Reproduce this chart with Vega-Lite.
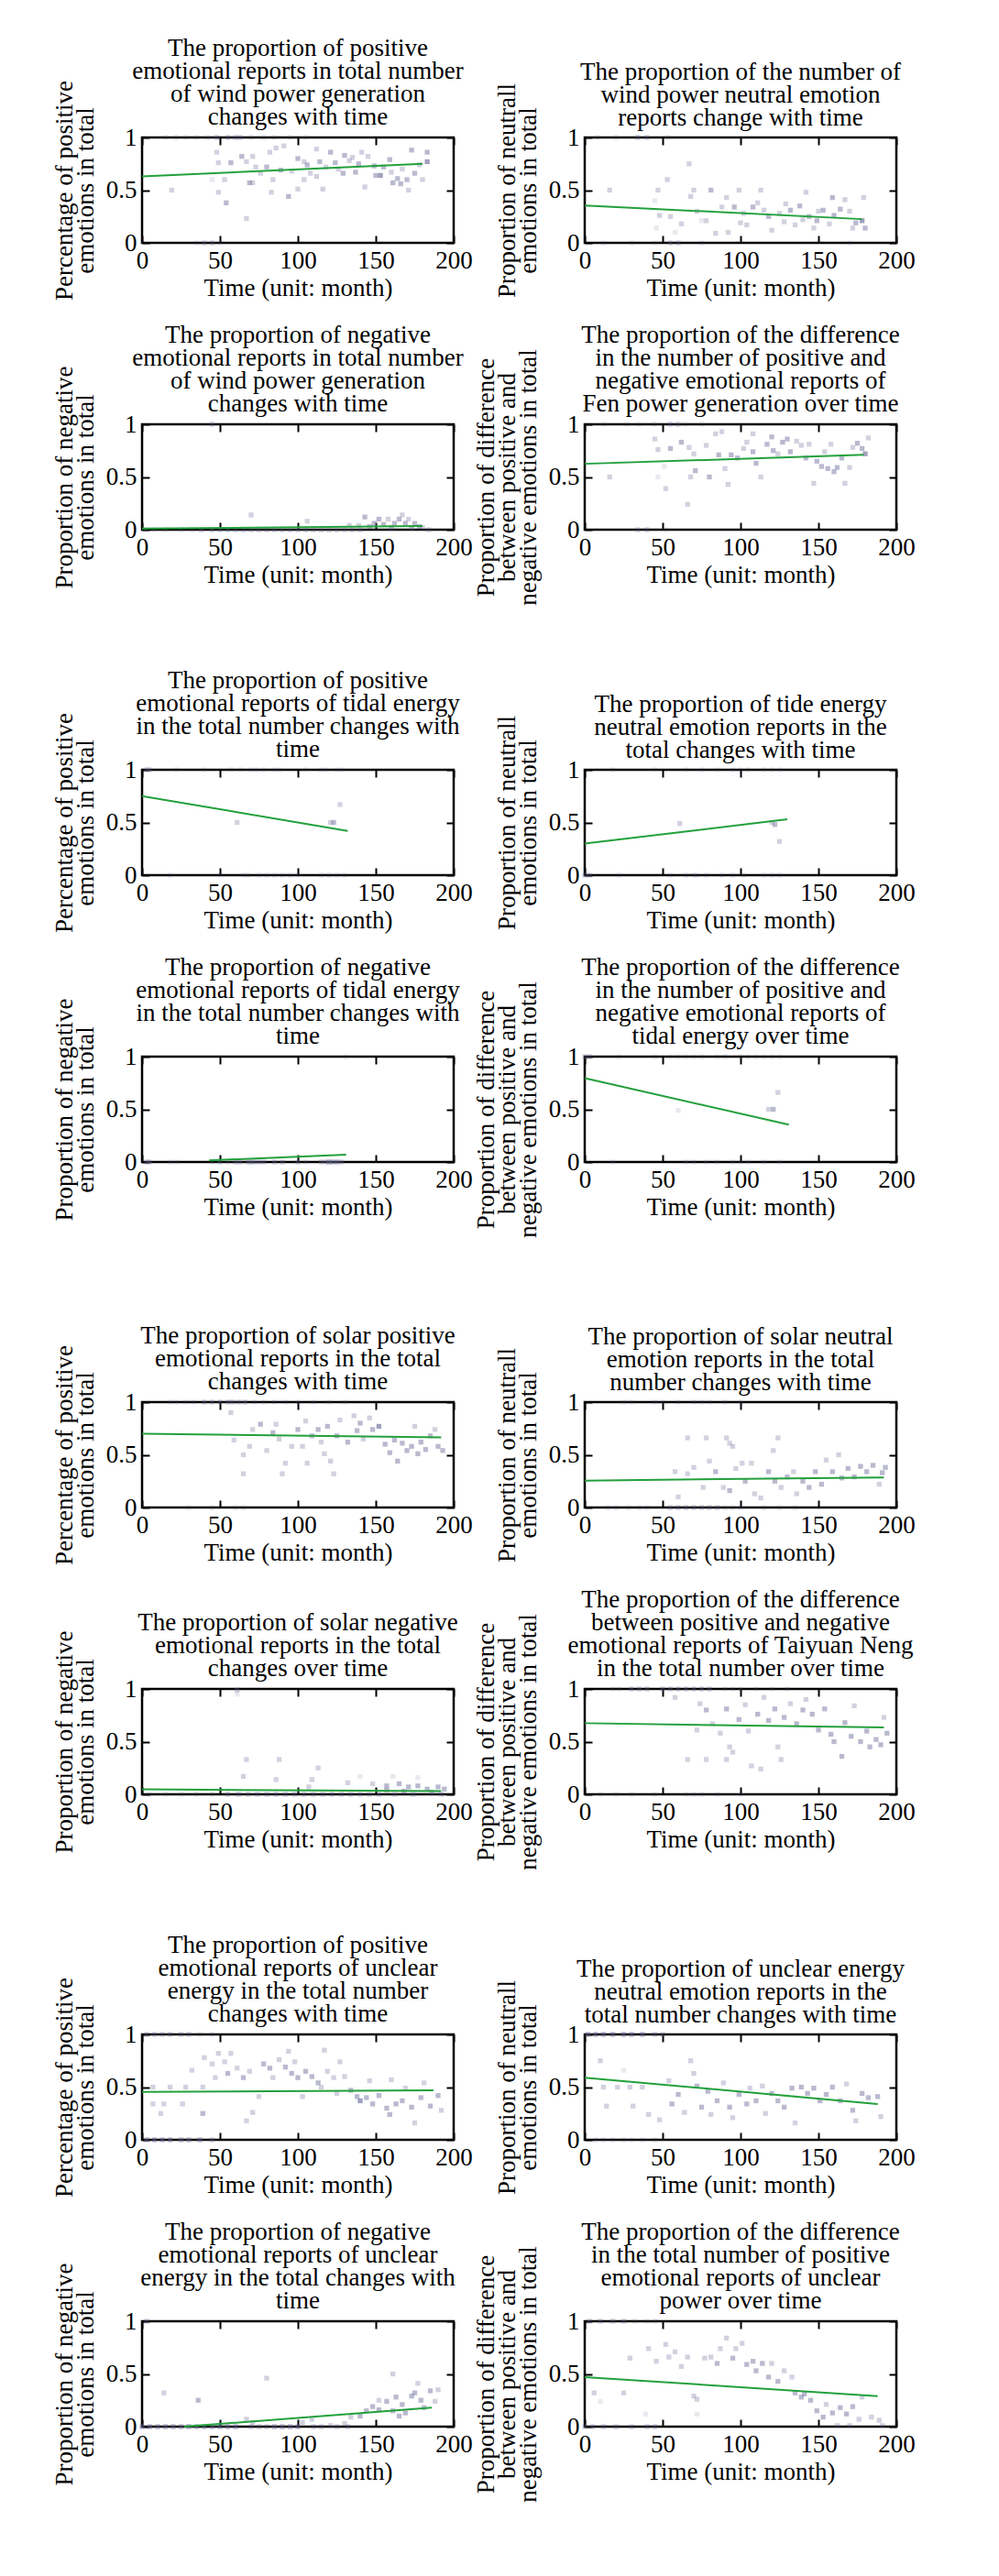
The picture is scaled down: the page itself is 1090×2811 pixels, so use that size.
{
"$schema": "https://vega.github.io/schema/vega-lite/v6.json",
"background": "white",
"padding": {"left": 55, "top": 37, "right": 5, "bottom": 5},
"config": {
 "font": "Liberation Serif",
 "view": {"stroke": "black", "strokeWidth": 2.5},
 "title": {"font": "Liberation Serif", "fontSize": 27, "fontWeight": "normal", "lineHeight": 25, "frame": "group", "anchor": "middle", "color": "black"},
 "axis": {"labelFont": "Liberation Serif", "labelFontSize": 27, "labelColor": "black", "titleFont": "Liberation Serif", "titleFontSize": 27, "titleFontWeight": "normal", "titleColor": "black", "titleLineHeight": 23, "grid": false, "domain": false, "tickColor": "black", "tickWidth": 2, "tickSize": -8, "labelPadding": 14, "labelFlush": false, "labelOverlap": false, "titlePadding": 4},
 "axisY": {"titlePadding": 8}
},
"datasets": {
"fit": [
{"p":1,"t":0,"v":0.63},{"p":1,"t":180,"v":0.75},
{"p":2,"t":0,"v":0.355},{"p":2,"t":178,"v":0.225},
{"p":3,"t":0,"v":0.01},{"p":3,"t":180,"v":0.035},
{"p":4,"t":0,"v":0.625},{"p":4,"t":179,"v":0.71},
{"p":5,"t":0,"v":0.75},{"p":5,"t":132,"v":0.42},
{"p":6,"t":0,"v":0.3},{"p":6,"t":130,"v":0.53},
{"p":7,"t":43,"v":0.015},{"p":7,"t":131,"v":0.07},
{"p":8,"t":0,"v":0.795},{"p":8,"t":131,"v":0.355},
{"p":9,"t":0,"v":0.7},{"p":9,"t":192,"v":0.665},
{"p":10,"t":0,"v":0.255},{"p":10,"t":192,"v":0.285},
{"p":11,"t":0,"v":0.047},{"p":11,"t":192,"v":0.03},
{"p":12,"t":0,"v":0.675},{"p":12,"t":192,"v":0.634},
{"p":13,"t":0,"v":0.455},{"p":13,"t":187,"v":0.47},
{"p":14,"t":0,"v":0.59},{"p":14,"t":188,"v":0.34},
{"p":15,"t":27,"v":0.0},{"p":15,"t":186,"v":0.18},
{"p":16,"t":0,"v":0.47},{"p":16,"t":188,"v":0.29}
],
"pts": [
{"p":1,"t":48,"v":0.86,"n":2},{"p":1,"t":49,"v":0.76,"n":2},{"p":1,"t":57,"v":0.76,"n":3},{"p":1,"t":64,"v":0.82,"n":3},{"p":1,"t":67,"v":0.77,"n":2},{"p":1,"t":71,"v":0.82,"n":2},{"p":1,"t":73,"v":0.72,"n":2},{"p":1,"t":69,"v":0.57,"n":3},{"p":1,"t":71,"v":0.57,"n":2},{"p":1,"t":45,"v":0.6,"n":1},{"p":1,"t":53,"v":0.6,"n":2},{"p":1,"t":49,"v":0.48,"n":2},{"p":1,"t":54,"v":0.38,"n":3},{"p":1,"t":67,"v":0.23,"n":2},{"p":1,"t":19,"v":0.5,"n":2},{"p":1,"t":82,"v":0.86,"n":2},{"p":1,"t":86,"v":0.9,"n":2},{"p":1,"t":91,"v":0.92,"n":2},{"p":1,"t":80,"v":0.72,"n":3},{"p":1,"t":89,"v":0.69,"n":3},{"p":1,"t":84,"v":0.6,"n":2},{"p":1,"t":83,"v":0.48,"n":2},{"p":1,"t":94,"v":0.44,"n":3},{"p":1,"t":100,"v":0.8,"n":3},{"p":1,"t":104,"v":0.77,"n":2},{"p":1,"t":106,"v":0.74,"n":3},{"p":1,"t":112,"v":0.89,"n":2},{"p":1,"t":114,"v":0.77,"n":3},{"p":1,"t":112,"v":0.63,"n":2},{"p":1,"t":116,"v":0.51,"n":2},{"p":1,"t":100,"v":0.51,"n":2},{"p":1,"t":104,"v":0.6,"n":2},{"p":1,"t":121,"v":0.86,"n":3},{"p":1,"t":124,"v":0.76,"n":3},{"p":1,"t":130,"v":0.83,"n":3},{"p":1,"t":129,"v":0.66,"n":3},{"p":1,"t":135,"v":0.81,"n":2},{"p":1,"t":137,"v":0.67,"n":3},{"p":1,"t":141,"v":0.86,"n":2},{"p":1,"t":143,"v":0.53,"n":2},{"p":1,"t":145,"v":0.82,"n":2},{"p":1,"t":150,"v":0.64,"n":3},{"p":1,"t":153,"v":0.64,"n":4},{"p":1,"t":159,"v":0.79,"n":3},{"p":1,"t":161,"v":0.57,"n":3},{"p":1,"t":164,"v":0.61,"n":3},{"p":1,"t":167,"v":0.7,"n":2},{"p":1,"t":171,"v":0.5,"n":2},{"p":1,"t":173,"v":0.88,"n":3},{"p":1,"t":175,"v":0.66,"n":3},{"p":1,"t":178,"v":0.74,"n":2},{"p":1,"t":183,"v":0.86,"n":3},{"p":1,"t":183,"v":0.77,"n":4},{"p":1,"t":180,"v":0.6,"n":2},{"p":1,"t":155,"v":0.72,"n":3},{"p":1,"t":149,"v":0.73,"n":3},{"p":1,"t":126,"v":0.7,"n":2},{"p":1,"t":118,"v":0.72,"n":2},{"p":1,"t":108,"v":0.66,"n":2},{"p":1,"t":96,"v":0.68,"n":2},{"p":1,"t":76,"v":0.66,"n":2},{"p":1,"t":160,"v":0.67,"n":2},{"p":1,"t":166,"v":0.56,"n":3},{"p":1,"t":170,"v":0.6,"n":3},{"p":1,"t":139,"v":0.75,"n":3},{"p":1,"t":133,"v":0.78,"n":2},
{"p":1,"t":15,"v":1,"n":1},{"p":1,"t":22,"v":1,"n":1},{"p":1,"t":28,"v":1,"n":1},{"p":1,"t":35,"v":1,"n":1},{"p":1,"t":42,"v":1,"n":1},{"p":1,"t":48,"v":1,"n":2},{"p":1,"t":55,"v":1,"n":2},{"p":1,"t":60,"v":1,"n":2},{"p":1,"t":63,"v":1,"n":2},{"p":1,"t":70,"v":1,"n":1},{"p":1,"t":78,"v":1,"n":1},{"p":1,"t":85,"v":1,"n":1},{"p":1,"t":95,"v":1,"n":1},{"p":1,"t":105,"v":1,"n":1},{"p":1,"t":35,"v":0,"n":1},{"p":1,"t":40,"v":0,"n":2},{"p":1,"t":45,"v":0,"n":2},{"p":1,"t":50,"v":0,"n":1},
{"p":2,"t":16,"v":0.5,"n":2},{"p":2,"t":34,"v":1,"n":2},{"p":2,"t":40,"v":1,"n":2},{"p":2,"t":53,"v":1,"n":1},{"p":2,"t":8,"v":1,"n":1},{"p":2,"t":20,"v":1,"n":1},{"p":2,"t":67,"v":0.75,"n":2},{"p":2,"t":53,"v":0.6,"n":2},{"p":2,"t":47,"v":0.5,"n":2},{"p":2,"t":45,"v":0.4,"n":1},{"p":2,"t":48,"v":0.26,"n":2},{"p":2,"t":46,"v":0.14,"n":1},{"p":2,"t":55,"v":0.25,"n":2},{"p":2,"t":62,"v":0.18,"n":2},{"p":2,"t":70,"v":0.5,"n":2},{"p":2,"t":68,"v":0.44,"n":2},{"p":2,"t":72,"v":0.3,"n":2},{"p":2,"t":78,"v":0.21,"n":2},{"p":2,"t":81,"v":0.5,"n":3},{"p":2,"t":84,"v":0.09,"n":2},{"p":2,"t":88,"v":0.34,"n":2},{"p":2,"t":91,"v":0.43,"n":2},{"p":2,"t":96,"v":0.34,"n":3},{"p":2,"t":99,"v":0.5,"n":2},{"p":2,"t":100,"v":0.19,"n":2},{"p":2,"t":104,"v":0.17,"n":2},{"p":2,"t":108,"v":0.34,"n":3},{"p":2,"t":111,"v":0.38,"n":2},{"p":2,"t":113,"v":0.5,"n":2},{"p":2,"t":115,"v":0.31,"n":2},{"p":2,"t":118,"v":0.25,"n":3},{"p":2,"t":120,"v":0.12,"n":2},{"p":2,"t":125,"v":0.28,"n":2},{"p":2,"t":129,"v":0.37,"n":2},{"p":2,"t":132,"v":0.31,"n":3},{"p":2,"t":135,"v":0.17,"n":2},{"p":2,"t":138,"v":0.35,"n":3},{"p":2,"t":142,"v":0.48,"n":2},{"p":2,"t":144,"v":0.25,"n":3},{"p":2,"t":147,"v":0.14,"n":2},{"p":2,"t":149,"v":0.21,"n":3},{"p":2,"t":153,"v":0.31,"n":3},{"p":2,"t":157,"v":0.18,"n":2},{"p":2,"t":159,"v":0.43,"n":3},{"p":2,"t":164,"v":0.32,"n":3},{"p":2,"t":167,"v":0.41,"n":2},{"p":2,"t":170,"v":0.3,"n":2},{"p":2,"t":172,"v":0.14,"n":2},{"p":2,"t":174,"v":0.19,"n":3},{"p":2,"t":178,"v":0.21,"n":4},{"p":2,"t":180,"v":0.14,"n":3},{"p":2,"t":179,"v":0.43,"n":2},{"p":2,"t":160,"v":0.26,"n":3},{"p":2,"t":150,"v":0.3,"n":2},{"p":2,"t":140,"v":0.22,"n":2},{"p":2,"t":128,"v":0.2,"n":2},{"p":2,"t":102,"v":0.28,"n":2},{"p":2,"t":92,"v":0.1,"n":2},{"p":2,"t":75,"v":0.21,"n":1},{"p":2,"t":58,"v":0.1,"n":1},{"p":2,"t":12,"v":0,"n":1},{"p":2,"t":30,"v":0,"n":1},{"p":2,"t":45,"v":0,"n":1},{"p":2,"t":55,"v":0,"n":2},{"p":2,"t":60,"v":0,"n":2},{"p":2,"t":75,"v":0,"n":1},{"p":2,"t":170,"v":0,"n":1},
{"p":3,"t":45,"v":1,"n":2},{"p":3,"t":70,"v":0.14,"n":2},{"p":3,"t":106,"v":0.08,"n":2},{"p":3,"t":143,"v":0.12,"n":3},{"p":3,"t":149,"v":0.06,"n":3},{"p":3,"t":152,"v":0.1,"n":3},{"p":3,"t":155,"v":0.05,"n":3},{"p":3,"t":158,"v":0.1,"n":2},{"p":3,"t":162,"v":0.06,"n":3},{"p":3,"t":165,"v":0.1,"n":3},{"p":3,"t":167,"v":0.14,"n":2},{"p":3,"t":169,"v":0.06,"n":3},{"p":3,"t":171,"v":0.1,"n":2},{"p":3,"t":175,"v":0.06,"n":3},{"p":3,"t":178,"v":0.03,"n":3},{"p":3,"t":133,"v":0.04,"n":2},{"p":3,"t":139,"v":0.04,"n":2},{"p":3,"t":146,"v":0.03,"n":3},{"p":3,"t":160,"v":0.02,"n":3},{"p":3,"t":173,"v":0.02,"n":3},{"p":3,"t":180,"v":0.02,"n":2},{"p":3,"t":184,"v":0,"n":2},{"p":3,"t":2,"v":0,"n":1},{"p":3,"t":8,"v":0,"n":1},{"p":3,"t":15,"v":0,"n":1},{"p":3,"t":25,"v":0,"n":1},{"p":3,"t":32,"v":0,"n":1},{"p":3,"t":38,"v":0,"n":2},{"p":3,"t":45,"v":0,"n":2},{"p":3,"t":50,"v":0,"n":2},{"p":3,"t":55,"v":0,"n":2},{"p":3,"t":60,"v":0,"n":2},{"p":3,"t":65,"v":0,"n":2},{"p":3,"t":70,"v":0,"n":2},{"p":3,"t":75,"v":0,"n":2},{"p":3,"t":80,"v":0,"n":2},{"p":3,"t":85,"v":0,"n":2},{"p":3,"t":90,"v":0,"n":2},{"p":3,"t":95,"v":0,"n":2},{"p":3,"t":100,"v":0,"n":2},{"p":3,"t":105,"v":0,"n":2},{"p":3,"t":110,"v":0,"n":2},{"p":3,"t":115,"v":0,"n":2},{"p":3,"t":120,"v":0,"n":2},{"p":3,"t":125,"v":0,"n":2},{"p":3,"t":130,"v":0,"n":2},{"p":3,"t":135,"v":0,"n":2},{"p":3,"t":140,"v":0,"n":2},
{"p":4,"t":16,"v":0.5,"n":2},{"p":4,"t":45,"v":0.86,"n":2},{"p":4,"t":47,"v":0.76,"n":2},{"p":4,"t":55,"v":0.77,"n":3},{"p":4,"t":62,"v":0.83,"n":3},{"p":4,"t":67,"v":0.78,"n":2},{"p":4,"t":70,"v":0.72,"n":2},{"p":4,"t":71,"v":0.56,"n":3},{"p":4,"t":68,"v":0.5,"n":2},{"p":4,"t":66,"v":0.24,"n":2},{"p":4,"t":52,"v":0.39,"n":2},{"p":4,"t":47,"v":0.5,"n":1},{"p":4,"t":51,"v":0.6,"n":1},{"p":4,"t":78,"v":0.8,"n":2},{"p":4,"t":80,"v":0.5,"n":3},{"p":4,"t":84,"v":0.91,"n":2},{"p":4,"t":86,"v":0.71,"n":3},{"p":4,"t":88,"v":0.93,"n":2},{"p":4,"t":90,"v":0.58,"n":2},{"p":4,"t":92,"v":0.43,"n":2},{"p":4,"t":94,"v":0.71,"n":3},{"p":4,"t":98,"v":0.68,"n":3},{"p":4,"t":102,"v":0.77,"n":2},{"p":4,"t":104,"v":0.83,"n":2},{"p":4,"t":108,"v":0.91,"n":2},{"p":4,"t":108,"v":0.74,"n":3},{"p":4,"t":110,"v":0.63,"n":3},{"p":4,"t":113,"v":0.5,"n":2},{"p":4,"t":117,"v":0.81,"n":3},{"p":4,"t":120,"v":0.88,"n":3},{"p":4,"t":121,"v":0.75,"n":3},{"p":4,"t":124,"v":0.72,"n":2},{"p":4,"t":127,"v":0.83,"n":3},{"p":4,"t":130,"v":0.86,"n":3},{"p":4,"t":132,"v":0.74,"n":3},{"p":4,"t":136,"v":0.84,"n":2},{"p":4,"t":139,"v":0.8,"n":2},{"p":4,"t":142,"v":0.68,"n":3},{"p":4,"t":144,"v":0.81,"n":2},{"p":4,"t":147,"v":0.44,"n":2},{"p":4,"t":149,"v":0.65,"n":3},{"p":4,"t":152,"v":0.6,"n":3},{"p":4,"t":154,"v":0.74,"n":2},{"p":4,"t":158,"v":0.81,"n":2},{"p":4,"t":160,"v":0.55,"n":3},{"p":4,"t":162,"v":0.59,"n":3},{"p":4,"t":165,"v":0.68,"n":3},{"p":4,"t":167,"v":0.44,"n":2},{"p":4,"t":170,"v":0.59,"n":2},{"p":4,"t":172,"v":0.78,"n":2},{"p":4,"t":175,"v":0.82,"n":3},{"p":4,"t":178,"v":0.77,"n":3},{"p":4,"t":182,"v":0.87,"n":2},{"p":4,"t":180,"v":0.72,"n":4},{"p":4,"t":156,"v":0.58,"n":3},{"p":4,"t":12,"v":1,"n":1},{"p":4,"t":27,"v":1,"n":1},{"p":4,"t":35,"v":1,"n":1},{"p":4,"t":45,"v":1,"n":1},{"p":4,"t":55,"v":1,"n":2},{"p":4,"t":60,"v":1,"n":2},{"p":4,"t":65,"v":1,"n":1},{"p":4,"t":75,"v":1,"n":1},{"p":4,"t":34,"v":0,"n":2},{"p":4,"t":40,"v":0,"n":2},{"p":4,"t":52,"v":0,"n":1},
{"p":5,"t":61,"v":0.5,"n":2},{"p":5,"t":121,"v":0.5,"n":2},{"p":5,"t":123,"v":0.5,"n":3},{"p":5,"t":127,"v":0.67,"n":2},{"p":5,"t":3,"v":1,"n":2},{"p":5,"t":5,"v":1,"n":2},{"p":5,"t":22,"v":1,"n":1},{"p":5,"t":40,"v":1,"n":1},{"p":5,"t":57,"v":1,"n":1},{"p":5,"t":63,"v":1,"n":1},{"p":5,"t":70,"v":1,"n":1},{"p":5,"t":73,"v":1,"n":1},{"p":5,"t":78,"v":1,"n":1},{"p":5,"t":85,"v":1,"n":1},{"p":5,"t":88,"v":1,"n":1},{"p":5,"t":105,"v":1,"n":1},{"p":5,"t":115,"v":1,"n":1},{"p":5,"t":118,"v":1,"n":1},{"p":5,"t":125,"v":1,"n":1},{"p":5,"t":128,"v":1,"n":1},{"p":5,"t":18,"v":0,"n":1},{"p":5,"t":50,"v":0,"n":1},{"p":5,"t":65,"v":0,"n":1},{"p":5,"t":68,"v":0,"n":1},{"p":5,"t":75,"v":0,"n":1},{"p":5,"t":80,"v":0,"n":1},{"p":5,"t":85,"v":0,"n":1},{"p":5,"t":90,"v":0,"n":1},{"p":5,"t":95,"v":0,"n":1},{"p":5,"t":100,"v":0,"n":1},{"p":5,"t":115,"v":0,"n":1},{"p":5,"t":120,"v":0,"n":1},{"p":5,"t":125,"v":0,"n":1},{"p":5,"t":130,"v":0,"n":1},
{"p":6,"t":61,"v":0.49,"n":2},{"p":6,"t":120,"v":0.5,"n":2},{"p":6,"t":122,"v":0.48,"n":3},{"p":6,"t":125,"v":0.32,"n":2},{"p":6,"t":18,"v":1,"n":1},{"p":6,"t":45,"v":1,"n":1},{"p":6,"t":65,"v":1,"n":1},{"p":6,"t":75,"v":1,"n":1},{"p":6,"t":85,"v":1,"n":1},{"p":6,"t":95,"v":1,"n":1},{"p":6,"t":100,"v":1,"n":1},{"p":6,"t":105,"v":1,"n":1},{"p":6,"t":115,"v":1,"n":1},{"p":6,"t":120,"v":1,"n":1},{"p":6,"t":125,"v":1,"n":1},{"p":6,"t":0,"v":0,"n":2},{"p":6,"t":3,"v":0,"n":2},{"p":6,"t":22,"v":0,"n":1},{"p":6,"t":55,"v":0,"n":1},{"p":6,"t":65,"v":0,"n":1},{"p":6,"t":70,"v":0,"n":1},{"p":6,"t":72,"v":0,"n":1},{"p":6,"t":78,"v":0,"n":1},{"p":6,"t":88,"v":0,"n":1},{"p":6,"t":95,"v":0,"n":1},{"p":6,"t":102,"v":0,"n":1},{"p":6,"t":115,"v":0,"n":1},{"p":6,"t":120,"v":0,"n":1},{"p":6,"t":125,"v":0,"n":1},
{"p":7,"t":131,"v":1,"n":1},{"p":7,"t":3,"v":0,"n":2},{"p":7,"t":5,"v":0,"n":2},{"p":7,"t":18,"v":0,"n":1},{"p":7,"t":22,"v":0,"n":1},{"p":7,"t":45,"v":0,"n":1},{"p":7,"t":50,"v":0,"n":2},{"p":7,"t":55,"v":0,"n":1},{"p":7,"t":60,"v":0,"n":2},{"p":7,"t":63,"v":0,"n":2},{"p":7,"t":68,"v":0,"n":2},{"p":7,"t":70,"v":0,"n":2},{"p":7,"t":72,"v":0,"n":2},{"p":7,"t":75,"v":0,"n":2},{"p":7,"t":78,"v":0,"n":2},{"p":7,"t":85,"v":0,"n":2},{"p":7,"t":90,"v":0,"n":2},{"p":7,"t":100,"v":0,"n":2},{"p":7,"t":105,"v":0,"n":1},{"p":7,"t":115,"v":0,"n":2},{"p":7,"t":118,"v":0,"n":2},{"p":7,"t":120,"v":0,"n":3},{"p":7,"t":122,"v":0,"n":3},{"p":7,"t":125,"v":0,"n":3},{"p":7,"t":128,"v":0,"n":2},
{"p":8,"t":60,"v":0.49,"n":1},{"p":8,"t":118,"v":0.5,"n":2},{"p":8,"t":121,"v":0.5,"n":3},{"p":8,"t":124,"v":0.66,"n":2},{"p":8,"t":0,"v":1,"n":2},{"p":8,"t":3,"v":1,"n":2},{"p":8,"t":22,"v":1,"n":1},{"p":8,"t":45,"v":1,"n":1},{"p":8,"t":55,"v":1,"n":1},{"p":8,"t":60,"v":1,"n":1},{"p":8,"t":65,"v":1,"n":1},{"p":8,"t":70,"v":1,"n":1},{"p":8,"t":75,"v":1,"n":1},{"p":8,"t":85,"v":1,"n":1},{"p":8,"t":90,"v":1,"n":1},{"p":8,"t":100,"v":1,"n":1},{"p":8,"t":105,"v":1,"n":1},{"p":8,"t":110,"v":1,"n":1},{"p":8,"t":115,"v":1,"n":1},{"p":8,"t":120,"v":1,"n":1},{"p":8,"t":125,"v":1,"n":1},{"p":8,"t":18,"v":0,"n":1},{"p":8,"t":65,"v":0,"n":1},{"p":8,"t":70,"v":0,"n":1},{"p":8,"t":78,"v":0,"n":1},{"p":8,"t":85,"v":0,"n":1},{"p":8,"t":95,"v":0,"n":1},{"p":8,"t":100,"v":0,"n":1},{"p":8,"t":105,"v":0,"n":1},{"p":8,"t":115,"v":0,"n":1},{"p":8,"t":125,"v":0,"n":1},
{"p":9,"t":57,"v":0.9,"n":2},{"p":9,"t":59,"v":0.64,"n":2},{"p":9,"t":65,"v":0.5,"n":2},{"p":9,"t":65,"v":0.32,"n":2},{"p":9,"t":69,"v":0.58,"n":2},{"p":9,"t":76,"v":0.79,"n":3},{"p":9,"t":80,"v":0.54,"n":2},{"p":9,"t":84,"v":0.71,"n":3},{"p":9,"t":86,"v":0.79,"n":2},{"p":9,"t":90,"v":0.32,"n":2},{"p":9,"t":92,"v":0.42,"n":2},{"p":9,"t":96,"v":0.58,"n":2},{"p":9,"t":100,"v":0.74,"n":3},{"p":9,"t":105,"v":0.82,"n":2},{"p":9,"t":106,"v":0.42,"n":2},{"p":9,"t":109,"v":0.68,"n":3},{"p":9,"t":113,"v":0.74,"n":3},{"p":9,"t":115,"v":0.62,"n":2},{"p":9,"t":117,"v":0.51,"n":2},{"p":9,"t":119,"v":0.77,"n":3},{"p":9,"t":121,"v":0.44,"n":2},{"p":9,"t":123,"v":0.32,"n":2},{"p":9,"t":125,"v":0.68,"n":3},{"p":9,"t":127,"v":0.83,"n":2},{"p":9,"t":132,"v":0.62,"n":3},{"p":9,"t":136,"v":0.87,"n":2},{"p":9,"t":138,"v":0.73,"n":3},{"p":9,"t":140,"v":0.8,"n":3},{"p":9,"t":142,"v":0.65,"n":2},{"p":9,"t":146,"v":0.85,"n":2},{"p":9,"t":148,"v":0.74,"n":3},{"p":9,"t":152,"v":0.77,"n":4},{"p":9,"t":156,"v":0.6,"n":3},{"p":9,"t":159,"v":0.52,"n":3},{"p":9,"t":162,"v":0.64,"n":3},{"p":9,"t":164,"v":0.44,"n":3},{"p":9,"t":167,"v":0.61,"n":3},{"p":9,"t":170,"v":0.54,"n":3},{"p":9,"t":173,"v":0.58,"n":3},{"p":9,"t":175,"v":0.77,"n":2},{"p":9,"t":177,"v":0.51,"n":3},{"p":9,"t":179,"v":0.62,"n":3},{"p":9,"t":182,"v":0.55,"n":3},{"p":9,"t":185,"v":0.68,"n":3},{"p":9,"t":188,"v":0.74,"n":2},{"p":9,"t":190,"v":0.58,"n":3},{"p":9,"t":193,"v":0.54,"n":3},{"p":9,"t":103,"v":0.58,"n":2},{"p":9,"t":88,"v":0.65,"n":2},{"p":9,"t":71,"v":0.74,"n":2},{"p":9,"t":18,"v":1,"n":1},{"p":9,"t":22,"v":1,"n":1},{"p":9,"t":28,"v":1,"n":1},{"p":9,"t":33,"v":1,"n":1},{"p":9,"t":40,"v":1,"n":2},{"p":9,"t":45,"v":1,"n":2},{"p":9,"t":50,"v":1,"n":2},{"p":9,"t":55,"v":1,"n":2},{"p":9,"t":58,"v":1,"n":2},{"p":9,"t":62,"v":1,"n":2},{"p":9,"t":66,"v":1,"n":2},{"p":9,"t":72,"v":1,"n":1},{"p":9,"t":78,"v":1,"n":1},{"p":9,"t":85,"v":1,"n":1},{"p":9,"t":92,"v":1,"n":1},{"p":9,"t":100,"v":1,"n":1},{"p":9,"t":110,"v":1,"n":1},{"p":9,"t":120,"v":1,"n":1},{"p":9,"t":130,"v":1,"n":1},{"p":9,"t":30,"v":0,"n":1},{"p":9,"t":45,"v":0,"n":1},{"p":9,"t":60,"v":0,"n":1},{"p":9,"t":65,"v":0,"n":1},
{"p":10,"t":66,"v":0.66,"n":2},{"p":10,"t":78,"v":0.66,"n":2},{"p":10,"t":91,"v":0.66,"n":2},{"p":10,"t":93,"v":0.61,"n":2},{"p":10,"t":95,"v":0.58,"n":2},{"p":10,"t":124,"v":0.66,"n":2},{"p":10,"t":121,"v":0.54,"n":2},{"p":10,"t":58,"v":0.34,"n":2},{"p":10,"t":60,"v":0.1,"n":2},{"p":10,"t":66,"v":0.32,"n":2},{"p":10,"t":70,"v":0.38,"n":2},{"p":10,"t":76,"v":0.19,"n":2},{"p":10,"t":80,"v":0.44,"n":2},{"p":10,"t":84,"v":0.34,"n":3},{"p":10,"t":89,"v":0.19,"n":2},{"p":10,"t":93,"v":0.16,"n":3},{"p":10,"t":97,"v":0.37,"n":2},{"p":10,"t":101,"v":0.42,"n":2},{"p":10,"t":103,"v":0.25,"n":3},{"p":10,"t":107,"v":0.42,"n":2},{"p":10,"t":109,"v":0.13,"n":2},{"p":10,"t":113,"v":0.09,"n":2},{"p":10,"t":118,"v":0.34,"n":3},{"p":10,"t":122,"v":0.25,"n":3},{"p":10,"t":126,"v":0.19,"n":2},{"p":10,"t":130,"v":0.29,"n":3},{"p":10,"t":134,"v":0.34,"n":2},{"p":10,"t":136,"v":0.13,"n":2},{"p":10,"t":140,"v":0.25,"n":3},{"p":10,"t":144,"v":0.19,"n":3},{"p":10,"t":148,"v":0.34,"n":3},{"p":10,"t":152,"v":0.22,"n":3},{"p":10,"t":155,"v":0.45,"n":2},{"p":10,"t":159,"v":0.34,"n":3},{"p":10,"t":163,"v":0.5,"n":2},{"p":10,"t":165,"v":0.28,"n":3},{"p":10,"t":169,"v":0.37,"n":3},{"p":10,"t":173,"v":0.29,"n":3},{"p":10,"t":177,"v":0.39,"n":3},{"p":10,"t":181,"v":0.34,"n":3},{"p":10,"t":185,"v":0.4,"n":3},{"p":10,"t":189,"v":0.22,"n":2},{"p":10,"t":193,"v":0.38,"n":3},{"p":10,"t":191,"v":0.33,"n":3},{"p":10,"t":25,"v":1,"n":1},{"p":10,"t":30,"v":1,"n":1},{"p":10,"t":45,"v":1,"n":1},{"p":10,"t":50,"v":1,"n":1},{"p":10,"t":60,"v":1,"n":1},{"p":10,"t":70,"v":1,"n":1},{"p":10,"t":75,"v":1,"n":1},{"p":10,"t":80,"v":1,"n":1},{"p":10,"t":90,"v":1,"n":1},{"p":10,"t":100,"v":1,"n":1},{"p":10,"t":15,"v":0,"n":1},{"p":10,"t":20,"v":0,"n":1},{"p":10,"t":28,"v":0,"n":1},{"p":10,"t":35,"v":0,"n":1},{"p":10,"t":40,"v":0,"n":1},{"p":10,"t":55,"v":0,"n":2},{"p":10,"t":60,"v":0,"n":2},{"p":10,"t":65,"v":0,"n":2},{"p":10,"t":70,"v":0,"n":2},{"p":10,"t":75,"v":0,"n":2},{"p":10,"t":80,"v":0,"n":2},{"p":10,"t":85,"v":0,"n":2},{"p":10,"t":90,"v":0,"n":1},{"p":10,"t":95,"v":0,"n":1},{"p":10,"t":100,"v":0,"n":1},{"p":10,"t":115,"v":0,"n":1},{"p":10,"t":125,"v":0,"n":1},{"p":10,"t":135,"v":0,"n":1},
{"p":11,"t":61,"v":0.99,"n":2},{"p":11,"t":61,"v":0.95,"n":1},{"p":11,"t":67,"v":0.33,"n":2},{"p":11,"t":88,"v":0.33,"n":2},{"p":11,"t":65,"v":0.17,"n":2},{"p":11,"t":86,"v":0.14,"n":2},{"p":11,"t":113,"v":0.25,"n":2},{"p":11,"t":109,"v":0.14,"n":2},{"p":11,"t":132,"v":0.11,"n":2},{"p":11,"t":107,"v":0.07,"n":2},{"p":11,"t":148,"v":0.1,"n":2},{"p":11,"t":157,"v":0.08,"n":3},{"p":11,"t":165,"v":0.1,"n":3},{"p":11,"t":171,"v":0.07,"n":3},{"p":11,"t":177,"v":0.08,"n":3},{"p":11,"t":183,"v":0.05,"n":3},{"p":11,"t":190,"v":0.07,"n":3},{"p":11,"t":194,"v":0.05,"n":3},{"p":11,"t":140,"v":0.17,"n":1},{"p":11,"t":161,"v":0.17,"n":1},{"p":11,"t":177,"v":0.16,"n":1},{"p":11,"t":157,"v":0.04,"n":3},{"p":11,"t":168,"v":0.03,"n":3},{"p":11,"t":186,"v":0.02,"n":3},{"p":11,"t":5,"v":0,"n":1},{"p":11,"t":15,"v":0,"n":1},{"p":11,"t":25,"v":0,"n":1},{"p":11,"t":35,"v":0,"n":1},{"p":11,"t":45,"v":0,"n":1},{"p":11,"t":55,"v":0,"n":2},{"p":11,"t":62,"v":0,"n":2},{"p":11,"t":68,"v":0,"n":2},{"p":11,"t":74,"v":0,"n":2},{"p":11,"t":80,"v":0,"n":2},{"p":11,"t":86,"v":0,"n":2},{"p":11,"t":92,"v":0,"n":2},{"p":11,"t":98,"v":0,"n":2},{"p":11,"t":104,"v":0,"n":2},{"p":11,"t":110,"v":0,"n":2},{"p":11,"t":116,"v":0,"n":2},{"p":11,"t":122,"v":0,"n":2},{"p":11,"t":128,"v":0,"n":2},{"p":11,"t":134,"v":0,"n":2},{"p":11,"t":140,"v":0,"n":2},{"p":11,"t":146,"v":0,"n":2},{"p":11,"t":152,"v":0,"n":2},{"p":11,"t":162,"v":0,"n":2},{"p":11,"t":174,"v":0,"n":2},{"p":11,"t":192,"v":0,"n":2},
{"p":12,"t":58,"v":0.92,"n":2},{"p":12,"t":66,"v":0.33,"n":2},{"p":12,"t":78,"v":0.33,"n":2},{"p":12,"t":91,"v":0.33,"n":2},{"p":12,"t":72,"v":0.61,"n":2},{"p":12,"t":74,"v":0.86,"n":2},{"p":12,"t":78,"v":0.8,"n":3},{"p":12,"t":82,"v":0.67,"n":2},{"p":12,"t":87,"v":0.58,"n":2},{"p":12,"t":91,"v":0.81,"n":3},{"p":12,"t":93,"v":0.45,"n":2},{"p":12,"t":95,"v":0.4,"n":2},{"p":12,"t":99,"v":0.71,"n":3},{"p":12,"t":103,"v":0.85,"n":2},{"p":12,"t":105,"v":0.6,"n":2},{"p":12,"t":107,"v":0.27,"n":2},{"p":12,"t":111,"v":0.76,"n":3},{"p":12,"t":113,"v":0.24,"n":2},{"p":12,"t":115,"v":0.92,"n":2},{"p":12,"t":118,"v":0.7,"n":3},{"p":12,"t":122,"v":0.81,"n":3},{"p":12,"t":124,"v":0.45,"n":2},{"p":12,"t":126,"v":0.33,"n":2},{"p":12,"t":128,"v":0.73,"n":3},{"p":12,"t":132,"v":0.86,"n":2},{"p":12,"t":136,"v":0.67,"n":3},{"p":12,"t":140,"v":0.8,"n":3},{"p":12,"t":142,"v":0.9,"n":2},{"p":12,"t":146,"v":0.76,"n":3},{"p":12,"t":150,"v":0.61,"n":3},{"p":12,"t":154,"v":0.81,"n":3},{"p":12,"t":158,"v":0.57,"n":3},{"p":12,"t":160,"v":0.5,"n":3},{"p":12,"t":165,"v":0.36,"n":3},{"p":12,"t":167,"v":0.68,"n":3},{"p":12,"t":171,"v":0.55,"n":3},{"p":12,"t":173,"v":0.84,"n":2},{"p":12,"t":177,"v":0.5,"n":3},{"p":12,"t":181,"v":0.6,"n":3},{"p":12,"t":183,"v":0.45,"n":3},{"p":12,"t":187,"v":0.52,"n":3},{"p":12,"t":192,"v":0.73,"n":2},{"p":12,"t":194,"v":0.58,"n":3},{"p":12,"t":190,"v":0.47,"n":3},{"p":12,"t":18,"v":1,"n":1},{"p":12,"t":22,"v":1,"n":1},{"p":12,"t":30,"v":1,"n":2},{"p":12,"t":35,"v":1,"n":2},{"p":12,"t":40,"v":1,"n":2},{"p":12,"t":50,"v":1,"n":2},{"p":12,"t":55,"v":1,"n":2},{"p":12,"t":60,"v":1,"n":2},{"p":12,"t":65,"v":1,"n":2},{"p":12,"t":70,"v":1,"n":2},{"p":12,"t":75,"v":1,"n":2},{"p":12,"t":80,"v":1,"n":2},{"p":12,"t":90,"v":1,"n":1},{"p":12,"t":95,"v":1,"n":1},{"p":12,"t":100,"v":1,"n":1},{"p":12,"t":110,"v":1,"n":1},{"p":12,"t":120,"v":1,"n":1},{"p":12,"t":130,"v":1,"n":1},{"p":12,"t":10,"v":0,"n":1},{"p":12,"t":20,"v":0,"n":1},{"p":12,"t":30,"v":0,"n":1},{"p":12,"t":45,"v":0,"n":1},{"p":12,"t":65,"v":0,"n":1},{"p":12,"t":70,"v":0,"n":1},{"p":12,"t":75,"v":0,"n":1},{"p":12,"t":85,"v":0,"n":1},{"p":12,"t":100,"v":0,"n":1},
{"p":13,"t":3,"v":1,"n":2},{"p":13,"t":8,"v":1,"n":2},{"p":13,"t":13,"v":1,"n":2},{"p":13,"t":18,"v":1,"n":2},{"p":13,"t":25,"v":1,"n":2},{"p":13,"t":30,"v":1,"n":2},{"p":13,"t":37,"v":1,"n":1},{"p":13,"t":45,"v":1,"n":1},{"p":13,"t":3,"v":0,"n":3},{"p":13,"t":8,"v":0,"n":3},{"p":13,"t":13,"v":0,"n":3},{"p":13,"t":18,"v":0,"n":3},{"p":13,"t":25,"v":0,"n":3},{"p":13,"t":30,"v":0,"n":3},{"p":13,"t":37,"v":0,"n":3},{"p":13,"t":45,"v":0,"n":2},{"p":13,"t":7,"v":0.34,"n":2},{"p":13,"t":14,"v":0.34,"n":2},{"p":13,"t":26,"v":0.34,"n":2},{"p":13,"t":12,"v":0.25,"n":2},{"p":13,"t":7,"v":0.5,"n":2},{"p":13,"t":18,"v":0.5,"n":2},{"p":13,"t":28,"v":0.5,"n":2},{"p":13,"t":39,"v":0.25,"n":3},{"p":13,"t":39,"v":0.5,"n":2},{"p":13,"t":32,"v":0.66,"n":2},{"p":13,"t":40,"v":0.78,"n":2},{"p":13,"t":45,"v":0.72,"n":2},{"p":13,"t":49,"v":0.82,"n":2},{"p":13,"t":53,"v":0.74,"n":2},{"p":13,"t":57,"v":0.82,"n":2},{"p":13,"t":47,"v":0.59,"n":2},{"p":13,"t":55,"v":0.63,"n":3},{"p":13,"t":61,"v":0.68,"n":2},{"p":13,"t":65,"v":0.59,"n":3},{"p":13,"t":69,"v":0.65,"n":2},{"p":13,"t":67,"v":0.18,"n":2},{"p":13,"t":71,"v":0.26,"n":2},{"p":13,"t":75,"v":0.41,"n":2},{"p":13,"t":78,"v":0.72,"n":3},{"p":13,"t":82,"v":0.68,"n":3},{"p":13,"t":84,"v":0.59,"n":2},{"p":13,"t":88,"v":0.76,"n":2},{"p":13,"t":92,"v":0.69,"n":3},{"p":13,"t":94,"v":0.84,"n":2},{"p":13,"t":96,"v":0.63,"n":3},{"p":13,"t":98,"v":0.74,"n":2},{"p":13,"t":100,"v":0.59,"n":3},{"p":13,"t":103,"v":0.41,"n":2},{"p":13,"t":105,"v":0.65,"n":3},{"p":13,"t":109,"v":0.6,"n":3},{"p":13,"t":113,"v":0.54,"n":3},{"p":13,"t":115,"v":0.5,"n":2},{"p":13,"t":117,"v":0.85,"n":2},{"p":13,"t":119,"v":0.65,"n":2},{"p":13,"t":123,"v":0.59,"n":2},{"p":13,"t":125,"v":0.44,"n":2},{"p":13,"t":127,"v":0.74,"n":2},{"p":13,"t":130,"v":0.6,"n":2},{"p":13,"t":134,"v":0.47,"n":3},{"p":13,"t":138,"v":0.41,"n":3},{"p":13,"t":140,"v":0.37,"n":4},{"p":13,"t":144,"v":0.4,"n":3},{"p":13,"t":148,"v":0.34,"n":3},{"p":13,"t":152,"v":0.42,"n":3},{"p":13,"t":157,"v":0.3,"n":3},{"p":13,"t":159,"v":0.24,"n":3},{"p":13,"t":163,"v":0.34,"n":3},{"p":13,"t":167,"v":0.37,"n":3},{"p":13,"t":169,"v":0.49,"n":2},{"p":13,"t":173,"v":0.31,"n":3},{"p":13,"t":175,"v":0.16,"n":2},{"p":13,"t":179,"v":0.4,"n":3},{"p":13,"t":181,"v":0.54,"n":2},{"p":13,"t":185,"v":0.32,"n":3},{"p":13,"t":190,"v":0.42,"n":3},{"p":13,"t":192,"v":0.28,"n":2},{"p":13,"t":146,"v":0.56,"n":2},{"p":13,"t":160,"v":0.57,"n":2},
{"p":14,"t":2,"v":1,"n":3},{"p":14,"t":7,"v":1,"n":3},{"p":14,"t":12,"v":1,"n":3},{"p":14,"t":18,"v":1,"n":3},{"p":14,"t":25,"v":1,"n":3},{"p":14,"t":30,"v":1,"n":3},{"p":14,"t":37,"v":1,"n":3},{"p":14,"t":45,"v":1,"n":2},{"p":14,"t":50,"v":1,"n":2},{"p":14,"t":7,"v":0,"n":1},{"p":14,"t":12,"v":0,"n":1},{"p":14,"t":18,"v":0,"n":1},{"p":14,"t":25,"v":0,"n":1},{"p":14,"t":30,"v":0,"n":1},{"p":14,"t":37,"v":0,"n":1},{"p":14,"t":45,"v":0,"n":1},{"p":14,"t":10,"v":0.75,"n":2},{"p":14,"t":25,"v":0.66,"n":1},{"p":14,"t":12,"v":0.5,"n":2},{"p":14,"t":21,"v":0.5,"n":2},{"p":14,"t":29,"v":0.5,"n":2},{"p":14,"t":37,"v":0.5,"n":2},{"p":14,"t":14,"v":0.32,"n":2},{"p":14,"t":31,"v":0.32,"n":2},{"p":14,"t":41,"v":0.24,"n":2},{"p":14,"t":48,"v":0.19,"n":2},{"p":14,"t":54,"v":0.56,"n":2},{"p":14,"t":56,"v":0.34,"n":3},{"p":14,"t":60,"v":0.43,"n":3},{"p":14,"t":64,"v":0.26,"n":2},{"p":14,"t":68,"v":0.75,"n":2},{"p":14,"t":70,"v":0.63,"n":2},{"p":14,"t":72,"v":0.51,"n":3},{"p":14,"t":75,"v":0.31,"n":3},{"p":14,"t":79,"v":0.46,"n":3},{"p":14,"t":81,"v":0.24,"n":2},{"p":14,"t":85,"v":0.37,"n":3},{"p":14,"t":89,"v":0.54,"n":2},{"p":14,"t":93,"v":0.31,"n":3},{"p":14,"t":95,"v":0.21,"n":2},{"p":14,"t":99,"v":0.43,"n":3},{"p":14,"t":104,"v":0.34,"n":3},{"p":14,"t":106,"v":0.49,"n":2},{"p":14,"t":110,"v":0.37,"n":3},{"p":14,"t":114,"v":0.51,"n":2},{"p":14,"t":116,"v":0.25,"n":2},{"p":14,"t":120,"v":0.44,"n":3},{"p":14,"t":124,"v":0.37,"n":3},{"p":14,"t":128,"v":0.31,"n":3},{"p":14,"t":133,"v":0.49,"n":3},{"p":14,"t":135,"v":0.16,"n":2},{"p":14,"t":139,"v":0.5,"n":3},{"p":14,"t":143,"v":0.44,"n":3},{"p":14,"t":147,"v":0.49,"n":3},{"p":14,"t":151,"v":0.37,"n":3},{"p":14,"t":155,"v":0.43,"n":3},{"p":14,"t":159,"v":0.5,"n":3},{"p":14,"t":164,"v":0.37,"n":3},{"p":14,"t":168,"v":0.53,"n":2},{"p":14,"t":172,"v":0.28,"n":3},{"p":14,"t":174,"v":0.18,"n":2},{"p":14,"t":178,"v":0.44,"n":3},{"p":14,"t":182,"v":0.4,"n":3},{"p":14,"t":188,"v":0.41,"n":3},{"p":14,"t":190,"v":0.22,"n":2},
{"p":15,"t":3,"v":1,"n":2},{"p":15,"t":14,"v":0.32,"n":2},{"p":15,"t":36,"v":0.25,"n":3},{"p":15,"t":80,"v":0.46,"n":2},{"p":15,"t":161,"v":0.5,"n":2},{"p":15,"t":177,"v":0.41,"n":2},{"p":15,"t":67,"v":0.07,"n":2},{"p":15,"t":71,"v":0.04,"n":2},{"p":15,"t":103,"v":0.04,"n":2},{"p":15,"t":109,"v":0.07,"n":2},{"p":15,"t":121,"v":0.01,"n":2},{"p":15,"t":130,"v":0.03,"n":2},{"p":15,"t":134,"v":0.09,"n":2},{"p":15,"t":140,"v":0.1,"n":3},{"p":15,"t":144,"v":0.15,"n":3},{"p":15,"t":148,"v":0.19,"n":3},{"p":15,"t":152,"v":0.16,"n":3},{"p":15,"t":157,"v":0.24,"n":3},{"p":15,"t":161,"v":0.15,"n":3},{"p":15,"t":163,"v":0.28,"n":3},{"p":15,"t":167,"v":0.21,"n":3},{"p":15,"t":169,"v":0.13,"n":3},{"p":15,"t":173,"v":0.29,"n":3},{"p":15,"t":175,"v":0.32,"n":3},{"p":15,"t":179,"v":0.25,"n":3},{"p":15,"t":181,"v":0.18,"n":3},{"p":15,"t":185,"v":0.34,"n":3},{"p":15,"t":190,"v":0.35,"n":2},{"p":15,"t":188,"v":0.24,"n":2},{"p":15,"t":165,"v":0.1,"n":3},{"p":15,"t":152,"v":0.25,"n":2},{"p":15,"t":0,"v":0,"n":3},{"p":15,"t":5,"v":0,"n":3},{"p":15,"t":10,"v":0,"n":3},{"p":15,"t":15,"v":0,"n":3},{"p":15,"t":20,"v":0,"n":3},{"p":15,"t":25,"v":0,"n":3},{"p":15,"t":30,"v":0,"n":3},{"p":15,"t":35,"v":0,"n":3},{"p":15,"t":40,"v":0,"n":3},{"p":15,"t":45,"v":0,"n":3},{"p":15,"t":50,"v":0,"n":3},{"p":15,"t":55,"v":0,"n":3},{"p":15,"t":60,"v":0,"n":3},{"p":15,"t":70,"v":0,"n":2},{"p":15,"t":75,"v":0,"n":2},{"p":15,"t":80,"v":0,"n":2},{"p":15,"t":85,"v":0,"n":3},{"p":15,"t":90,"v":0,"n":3},{"p":15,"t":95,"v":0,"n":3},{"p":15,"t":100,"v":0,"n":3},{"p":15,"t":110,"v":0,"n":2},{"p":15,"t":115,"v":0,"n":2},{"p":15,"t":125,"v":0,"n":2},{"p":15,"t":132,"v":0,"n":2},
{"p":16,"t":3,"v":1,"n":2},{"p":16,"t":10,"v":1,"n":2},{"p":16,"t":18,"v":1,"n":2},{"p":16,"t":25,"v":1,"n":2},{"p":16,"t":32,"v":1,"n":1},{"p":16,"t":40,"v":1,"n":1},{"p":16,"t":45,"v":1,"n":1},{"p":16,"t":0,"v":0,"n":2},{"p":16,"t":5,"v":0,"n":2},{"p":16,"t":12,"v":0,"n":2},{"p":16,"t":20,"v":0,"n":2},{"p":16,"t":30,"v":0,"n":2},{"p":16,"t":40,"v":0,"n":2},{"p":16,"t":45,"v":0,"n":2},{"p":16,"t":6,"v":0.32,"n":2},{"p":16,"t":25,"v":0.32,"n":2},{"p":16,"t":10,"v":0.24,"n":1},{"p":16,"t":29,"v":0.65,"n":2},{"p":16,"t":41,"v":0.74,"n":2},{"p":16,"t":46,"v":0.62,"n":2},{"p":16,"t":52,"v":0.78,"n":2},{"p":16,"t":54,"v":0.66,"n":2},{"p":16,"t":58,"v":0.71,"n":2},{"p":16,"t":62,"v":0.57,"n":2},{"p":16,"t":66,"v":0.66,"n":2},{"p":16,"t":70,"v":0.29,"n":2},{"p":16,"t":72,"v":0.26,"n":2},{"p":16,"t":77,"v":0.65,"n":2},{"p":16,"t":81,"v":0.66,"n":2},{"p":16,"t":85,"v":0.6,"n":3},{"p":16,"t":87,"v":0.74,"n":2},{"p":16,"t":91,"v":0.84,"n":2},{"p":16,"t":95,"v":0.65,"n":3},{"p":16,"t":97,"v":0.74,"n":2},{"p":16,"t":101,"v":0.79,"n":2},{"p":16,"t":104,"v":0.59,"n":3},{"p":16,"t":108,"v":0.62,"n":3},{"p":16,"t":110,"v":0.53,"n":3},{"p":16,"t":114,"v":0.6,"n":3},{"p":16,"t":118,"v":0.47,"n":3},{"p":16,"t":120,"v":0.6,"n":2},{"p":16,"t":124,"v":0.43,"n":3},{"p":16,"t":128,"v":0.53,"n":2},{"p":16,"t":133,"v":0.47,"n":2},{"p":16,"t":135,"v":0.32,"n":3},{"p":16,"t":139,"v":0.28,"n":3},{"p":16,"t":141,"v":0.31,"n":3},{"p":16,"t":145,"v":0.25,"n":3},{"p":16,"t":149,"v":0.15,"n":3},{"p":16,"t":153,"v":0.09,"n":3},{"p":16,"t":155,"v":0.21,"n":2},{"p":16,"t":159,"v":0.13,"n":3},{"p":16,"t":164,"v":0.18,"n":3},{"p":16,"t":168,"v":0.12,"n":3},{"p":16,"t":172,"v":0.19,"n":3},{"p":16,"t":176,"v":0.07,"n":2},{"p":16,"t":178,"v":0.28,"n":2},{"p":16,"t":184,"v":0.09,"n":2},{"p":16,"t":189,"v":0.06,"n":2},{"p":16,"t":162,"v":0.01,"n":2},{"p":16,"t":170,"v":0.01,"n":2},{"p":16,"t":191,"v":0.01,"n":2},{"p":16,"t":72,"v":0.12,"n":1},{"p":16,"t":39,"v":0.12,"n":1}
]
},
"spacing": 65,
"vconcat": [
{"concat": [
 {"width": 340, "height": 115, "title": {"text": ["The proportion of positive", "emotional reports in total number", "of wind power generation", "changes with time"], "offset": -54},
  "layer": [
   {"data": {"name": "pts"}, "transform": [{"filter": "datum.p == 1"}], "mark": {"type": "square", "size": 28, "color": "#6b6b99"},
    "encoding": {"x": {"field": "t", "type": "quantitative", "scale": {"domain": [0, 200]}, "axis": {"orient": "bottom", "values": [0, 50, 100, 150, 200], "title": "Time (unit: month)"}},
     "y": {"field": "v", "type": "quantitative", "scale": {"domain": [0, 1]}, "axis": {"orient": "left", "values": [0, 0.5, 1], "format": "~g", "title": ["Percentage of positive", "emotions in total"]}},
     "opacity": {"field": "n", "type": "quantitative", "scale": {"domain": [1, 5], "range": [0.15, 0.8]}, "legend": null}}},
   {"data": {"name": "fit"}, "transform": [{"filter": "datum.p == 1"}], "mark": {"type": "line", "color": "#23a03c", "strokeWidth": 2},
    "encoding": {"x": {"field": "t", "type": "quantitative", "axis": {"orient": "top", "labels": false, "title": null, "values": [0, 50, 100, 150, 200]}},
     "y": {"field": "v", "type": "quantitative", "axis": {"orient": "right", "labels": false, "title": null, "values": [0, 0.5, 1]}}}}
  ]},
 {"width": 340, "height": 115, "title": {"text": ["The proportion of the number of", "wind power neutral emotion", "reports change with time"], "offset": -52},
  "layer": [
   {"data": {"name": "pts"}, "transform": [{"filter": "datum.p == 2"}], "mark": {"type": "square", "size": 28, "color": "#6b6b99"},
    "encoding": {"x": {"field": "t", "type": "quantitative", "scale": {"domain": [0, 200]}, "axis": {"orient": "bottom", "values": [0, 50, 100, 150, 200], "title": "Time (unit: month)"}},
     "y": {"field": "v", "type": "quantitative", "scale": {"domain": [0, 1]}, "axis": {"orient": "left", "values": [0, 0.5, 1], "format": "~g", "title": ["Proportion of neutrall", "emotions in total"]}},
     "opacity": {"field": "n", "type": "quantitative", "scale": {"domain": [1, 5], "range": [0.15, 0.8]}, "legend": null}}},
   {"data": {"name": "fit"}, "transform": [{"filter": "datum.p == 2"}], "mark": {"type": "line", "color": "#23a03c", "strokeWidth": 2},
    "encoding": {"x": {"field": "t", "type": "quantitative", "axis": {"orient": "top", "labels": false, "title": null, "values": [0, 50, 100, 150, 200]}},
     "y": {"field": "v", "type": "quantitative", "axis": {"orient": "right", "labels": false, "title": null, "values": [0, 0.5, 1]}}}}
  ]},
 {"width": 340, "height": 115, "title": {"text": ["The proportion of negative", "emotional reports in total number", "of wind power generation", "changes with time"], "offset": -56},
  "layer": [
   {"data": {"name": "pts"}, "transform": [{"filter": "datum.p == 3"}], "mark": {"type": "square", "size": 28, "color": "#6b6b99"},
    "encoding": {"x": {"field": "t", "type": "quantitative", "scale": {"domain": [0, 200]}, "axis": {"orient": "bottom", "values": [0, 50, 100, 150, 200], "title": "Time (unit: month)"}},
     "y": {"field": "v", "type": "quantitative", "scale": {"domain": [0, 1]}, "axis": {"orient": "left", "values": [0, 0.5, 1], "format": "~g", "title": ["Proportion of negative", "emotions in total"]}},
     "opacity": {"field": "n", "type": "quantitative", "scale": {"domain": [1, 5], "range": [0.15, 0.8]}, "legend": null}}},
   {"data": {"name": "fit"}, "transform": [{"filter": "datum.p == 3"}], "mark": {"type": "line", "color": "#23a03c", "strokeWidth": 2},
    "encoding": {"x": {"field": "t", "type": "quantitative", "axis": {"orient": "top", "labels": false, "title": null, "values": [0, 50, 100, 150, 200]}},
     "y": {"field": "v", "type": "quantitative", "axis": {"orient": "right", "labels": false, "title": null, "values": [0, 0.5, 1]}}}}
  ]},
 {"width": 340, "height": 115, "title": {"text": ["The proportion of the difference", "in the number of positive and", "negative emotional reports of", "Fen power generation over time"], "offset": -74},
  "layer": [
   {"data": {"name": "pts"}, "transform": [{"filter": "datum.p == 4"}], "mark": {"type": "square", "size": 28, "color": "#6b6b99"},
    "encoding": {"x": {"field": "t", "type": "quantitative", "scale": {"domain": [0, 200]}, "axis": {"orient": "bottom", "values": [0, 50, 100, 150, 200], "title": "Time (unit: month)"}},
     "y": {"field": "v", "type": "quantitative", "scale": {"domain": [0, 1]}, "axis": {"orient": "left", "values": [0, 0.5, 1], "format": "~g", "title": ["Proportion of difference", "between positive and", "negative emotions in total"]}},
     "opacity": {"field": "n", "type": "quantitative", "scale": {"domain": [1, 5], "range": [0.15, 0.8]}, "legend": null}}},
   {"data": {"name": "fit"}, "transform": [{"filter": "datum.p == 4"}], "mark": {"type": "line", "color": "#23a03c", "strokeWidth": 2},
    "encoding": {"x": {"field": "t", "type": "quantitative", "axis": {"orient": "top", "labels": false, "title": null, "values": [0, 50, 100, 150, 200]}},
     "y": {"field": "v", "type": "quantitative", "axis": {"orient": "right", "labels": false, "title": null, "values": [0, 0.5, 1]}}}}
  ]}
], "columns": 2, "bounds": "flush", "spacing": {"row": 198, "column": 143}},
{"concat": [
 {"width": 340, "height": 115, "title": {"text": ["The proportion of positive", "emotional reports of tidal energy", "in the total number changes with", "time"], "offset": -54},
  "layer": [
   {"data": {"name": "pts"}, "transform": [{"filter": "datum.p == 5"}], "mark": {"type": "square", "size": 28, "color": "#6b6b99"},
    "encoding": {"x": {"field": "t", "type": "quantitative", "scale": {"domain": [0, 200]}, "axis": {"orient": "bottom", "values": [0, 50, 100, 150, 200], "title": "Time (unit: month)"}},
     "y": {"field": "v", "type": "quantitative", "scale": {"domain": [0, 1]}, "axis": {"orient": "left", "values": [0, 0.5, 1], "format": "~g", "title": ["Percentage of positive", "emotions in total"]}},
     "opacity": {"field": "n", "type": "quantitative", "scale": {"domain": [1, 5], "range": [0.15, 0.8]}, "legend": null}}},
   {"data": {"name": "fit"}, "transform": [{"filter": "datum.p == 5"}], "mark": {"type": "line", "color": "#23a03c", "strokeWidth": 2},
    "encoding": {"x": {"field": "t", "type": "quantitative", "axis": {"orient": "top", "labels": false, "title": null, "values": [0, 50, 100, 150, 200]}},
     "y": {"field": "v", "type": "quantitative", "axis": {"orient": "right", "labels": false, "title": null, "values": [0, 0.5, 1]}}}}
  ]},
 {"width": 340, "height": 115, "title": {"text": ["The proportion of tide energy", "neutral emotion reports in the", "total changes with time"], "offset": -52},
  "layer": [
   {"data": {"name": "pts"}, "transform": [{"filter": "datum.p == 6"}], "mark": {"type": "square", "size": 28, "color": "#6b6b99"},
    "encoding": {"x": {"field": "t", "type": "quantitative", "scale": {"domain": [0, 200]}, "axis": {"orient": "bottom", "values": [0, 50, 100, 150, 200], "title": "Time (unit: month)"}},
     "y": {"field": "v", "type": "quantitative", "scale": {"domain": [0, 1]}, "axis": {"orient": "left", "values": [0, 0.5, 1], "format": "~g", "title": ["Proportion of neutrall", "emotions in total"]}},
     "opacity": {"field": "n", "type": "quantitative", "scale": {"domain": [1, 5], "range": [0.15, 0.8]}, "legend": null}}},
   {"data": {"name": "fit"}, "transform": [{"filter": "datum.p == 6"}], "mark": {"type": "line", "color": "#23a03c", "strokeWidth": 2},
    "encoding": {"x": {"field": "t", "type": "quantitative", "axis": {"orient": "top", "labels": false, "title": null, "values": [0, 50, 100, 150, 200]}},
     "y": {"field": "v", "type": "quantitative", "axis": {"orient": "right", "labels": false, "title": null, "values": [0, 0.5, 1]}}}}
  ]},
 {"width": 340, "height": 115, "title": {"text": ["The proportion of negative", "emotional reports of tidal energy", "in the total number changes with", "time"], "offset": -56},
  "layer": [
   {"data": {"name": "pts"}, "transform": [{"filter": "datum.p == 7"}], "mark": {"type": "square", "size": 28, "color": "#6b6b99"},
    "encoding": {"x": {"field": "t", "type": "quantitative", "scale": {"domain": [0, 200]}, "axis": {"orient": "bottom", "values": [0, 50, 100, 150, 200], "title": "Time (unit: month)"}},
     "y": {"field": "v", "type": "quantitative", "scale": {"domain": [0, 1]}, "axis": {"orient": "left", "values": [0, 0.5, 1], "format": "~g", "title": ["Proportion of negative", "emotions in total"]}},
     "opacity": {"field": "n", "type": "quantitative", "scale": {"domain": [1, 5], "range": [0.15, 0.8]}, "legend": null}}},
   {"data": {"name": "fit"}, "transform": [{"filter": "datum.p == 7"}], "mark": {"type": "line", "color": "#23a03c", "strokeWidth": 2},
    "encoding": {"x": {"field": "t", "type": "quantitative", "axis": {"orient": "top", "labels": false, "title": null, "values": [0, 50, 100, 150, 200]}},
     "y": {"field": "v", "type": "quantitative", "axis": {"orient": "right", "labels": false, "title": null, "values": [0, 0.5, 1]}}}}
  ]},
 {"width": 340, "height": 115, "title": {"text": ["The proportion of the difference", "in the number of positive and", "negative emotional reports of", "tidal energy over time"], "offset": -74},
  "layer": [
   {"data": {"name": "pts"}, "transform": [{"filter": "datum.p == 8"}], "mark": {"type": "square", "size": 28, "color": "#6b6b99"},
    "encoding": {"x": {"field": "t", "type": "quantitative", "scale": {"domain": [0, 200]}, "axis": {"orient": "bottom", "values": [0, 50, 100, 150, 200], "title": "Time (unit: month)"}},
     "y": {"field": "v", "type": "quantitative", "scale": {"domain": [0, 1]}, "axis": {"orient": "left", "values": [0, 0.5, 1], "format": "~g", "title": ["Proportion of difference", "between positive and", "negative emotions in total"]}},
     "opacity": {"field": "n", "type": "quantitative", "scale": {"domain": [1, 5], "range": [0.15, 0.8]}, "legend": null}}},
   {"data": {"name": "fit"}, "transform": [{"filter": "datum.p == 8"}], "mark": {"type": "line", "color": "#23a03c", "strokeWidth": 2},
    "encoding": {"x": {"field": "t", "type": "quantitative", "axis": {"orient": "top", "labels": false, "title": null, "values": [0, 50, 100, 150, 200]}},
     "y": {"field": "v", "type": "quantitative", "axis": {"orient": "right", "labels": false, "title": null, "values": [0, 0.5, 1]}}}}
  ]}
], "columns": 2, "bounds": "flush", "spacing": {"row": 198, "column": 143}},
{"concat": [
 {"width": 340, "height": 115, "title": {"text": [" ", "The proportion of solar positive", "emotional reports in the total", "changes with time"], "offset": -54},
  "layer": [
   {"data": {"name": "pts"}, "transform": [{"filter": "datum.p == 9"}], "mark": {"type": "square", "size": 28, "color": "#6b6b99"},
    "encoding": {"x": {"field": "t", "type": "quantitative", "scale": {"domain": [0, 200]}, "axis": {"orient": "bottom", "values": [0, 50, 100, 150, 200], "title": "Time (unit: month)"}},
     "y": {"field": "v", "type": "quantitative", "scale": {"domain": [0, 1]}, "axis": {"orient": "left", "values": [0, 0.5, 1], "format": "~g", "title": ["Percentage of positive", "emotions in total"]}},
     "opacity": {"field": "n", "type": "quantitative", "scale": {"domain": [1, 5], "range": [0.15, 0.8]}, "legend": null}}},
   {"data": {"name": "fit"}, "transform": [{"filter": "datum.p == 9"}], "mark": {"type": "line", "color": "#23a03c", "strokeWidth": 2},
    "encoding": {"x": {"field": "t", "type": "quantitative", "axis": {"orient": "top", "labels": false, "title": null, "values": [0, 50, 100, 150, 200]}},
     "y": {"field": "v", "type": "quantitative", "axis": {"orient": "right", "labels": false, "title": null, "values": [0, 0.5, 1]}}}}
  ]},
 {"width": 340, "height": 115, "title": {"text": ["The proportion of solar neutral", "emotion reports in the total", "number changes with time"], "offset": -52},
  "layer": [
   {"data": {"name": "pts"}, "transform": [{"filter": "datum.p == 10"}], "mark": {"type": "square", "size": 28, "color": "#6b6b99"},
    "encoding": {"x": {"field": "t", "type": "quantitative", "scale": {"domain": [0, 200]}, "axis": {"orient": "bottom", "values": [0, 50, 100, 150, 200], "title": "Time (unit: month)"}},
     "y": {"field": "v", "type": "quantitative", "scale": {"domain": [0, 1]}, "axis": {"orient": "left", "values": [0, 0.5, 1], "format": "~g", "title": ["Proportion of neutrall", "emotions in total"]}},
     "opacity": {"field": "n", "type": "quantitative", "scale": {"domain": [1, 5], "range": [0.15, 0.8]}, "legend": null}}},
   {"data": {"name": "fit"}, "transform": [{"filter": "datum.p == 10"}], "mark": {"type": "line", "color": "#23a03c", "strokeWidth": 2},
    "encoding": {"x": {"field": "t", "type": "quantitative", "axis": {"orient": "top", "labels": false, "title": null, "values": [0, 50, 100, 150, 200]}},
     "y": {"field": "v", "type": "quantitative", "axis": {"orient": "right", "labels": false, "title": null, "values": [0, 0.5, 1]}}}}
  ]},
 {"width": 340, "height": 115, "title": {"text": ["The proportion of solar negative", "emotional reports in the total", "changes over time"], "offset": -56},
  "layer": [
   {"data": {"name": "pts"}, "transform": [{"filter": "datum.p == 11"}], "mark": {"type": "square", "size": 28, "color": "#6b6b99"},
    "encoding": {"x": {"field": "t", "type": "quantitative", "scale": {"domain": [0, 200]}, "axis": {"orient": "bottom", "values": [0, 50, 100, 150, 200], "title": "Time (unit: month)"}},
     "y": {"field": "v", "type": "quantitative", "scale": {"domain": [0, 1]}, "axis": {"orient": "left", "values": [0, 0.5, 1], "format": "~g", "title": ["Proportion of negative", "emotions in total"]}},
     "opacity": {"field": "n", "type": "quantitative", "scale": {"domain": [1, 5], "range": [0.15, 0.8]}, "legend": null}}},
   {"data": {"name": "fit"}, "transform": [{"filter": "datum.p == 11"}], "mark": {"type": "line", "color": "#23a03c", "strokeWidth": 2},
    "encoding": {"x": {"field": "t", "type": "quantitative", "axis": {"orient": "top", "labels": false, "title": null, "values": [0, 50, 100, 150, 200]}},
     "y": {"field": "v", "type": "quantitative", "axis": {"orient": "right", "labels": false, "title": null, "values": [0, 0.5, 1]}}}}
  ]},
 {"width": 340, "height": 115, "title": {"text": ["The proportion of the difference", "between positive and negative", "emotional reports of Taiyuan Neng", "in the total number over time"], "offset": -74},
  "layer": [
   {"data": {"name": "pts"}, "transform": [{"filter": "datum.p == 12"}], "mark": {"type": "square", "size": 28, "color": "#6b6b99"},
    "encoding": {"x": {"field": "t", "type": "quantitative", "scale": {"domain": [0, 200]}, "axis": {"orient": "bottom", "values": [0, 50, 100, 150, 200], "title": "Time (unit: month)"}},
     "y": {"field": "v", "type": "quantitative", "scale": {"domain": [0, 1]}, "axis": {"orient": "left", "values": [0, 0.5, 1], "format": "~g", "title": ["Proportion of difference", "between positive and", "negative emotions in total"]}},
     "opacity": {"field": "n", "type": "quantitative", "scale": {"domain": [1, 5], "range": [0.15, 0.8]}, "legend": null}}},
   {"data": {"name": "fit"}, "transform": [{"filter": "datum.p == 12"}], "mark": {"type": "line", "color": "#23a03c", "strokeWidth": 2},
    "encoding": {"x": {"field": "t", "type": "quantitative", "axis": {"orient": "top", "labels": false, "title": null, "values": [0, 50, 100, 150, 200]}},
     "y": {"field": "v", "type": "quantitative", "axis": {"orient": "right", "labels": false, "title": null, "values": [0, 0.5, 1]}}}}
  ]}
], "columns": 2, "bounds": "flush", "spacing": {"row": 198, "column": 143}},
{"concat": [
 {"width": 340, "height": 115, "title": {"text": ["The proportion of positive", "emotional reports of unclear", "energy in the total number", "changes with time"], "offset": -54},
  "layer": [
   {"data": {"name": "pts"}, "transform": [{"filter": "datum.p == 13"}], "mark": {"type": "square", "size": 28, "color": "#6b6b99"},
    "encoding": {"x": {"field": "t", "type": "quantitative", "scale": {"domain": [0, 200]}, "axis": {"orient": "bottom", "values": [0, 50, 100, 150, 200], "title": "Time (unit: month)"}},
     "y": {"field": "v", "type": "quantitative", "scale": {"domain": [0, 1]}, "axis": {"orient": "left", "values": [0, 0.5, 1], "format": "~g", "title": ["Percentage of positive", "emotions in total"]}},
     "opacity": {"field": "n", "type": "quantitative", "scale": {"domain": [1, 5], "range": [0.15, 0.8]}, "legend": null}}},
   {"data": {"name": "fit"}, "transform": [{"filter": "datum.p == 13"}], "mark": {"type": "line", "color": "#23a03c", "strokeWidth": 2},
    "encoding": {"x": {"field": "t", "type": "quantitative", "axis": {"orient": "top", "labels": false, "title": null, "values": [0, 50, 100, 150, 200]}},
     "y": {"field": "v", "type": "quantitative", "axis": {"orient": "right", "labels": false, "title": null, "values": [0, 0.5, 1]}}}}
  ]},
 {"width": 340, "height": 115, "title": {"text": ["The proportion of unclear energy", "neutral emotion reports in the", "total number changes with time"], "offset": -52},
  "layer": [
   {"data": {"name": "pts"}, "transform": [{"filter": "datum.p == 14"}], "mark": {"type": "square", "size": 28, "color": "#6b6b99"},
    "encoding": {"x": {"field": "t", "type": "quantitative", "scale": {"domain": [0, 200]}, "axis": {"orient": "bottom", "values": [0, 50, 100, 150, 200], "title": "Time (unit: month)"}},
     "y": {"field": "v", "type": "quantitative", "scale": {"domain": [0, 1]}, "axis": {"orient": "left", "values": [0, 0.5, 1], "format": "~g", "title": ["Proportion of neutrall", "emotions in total"]}},
     "opacity": {"field": "n", "type": "quantitative", "scale": {"domain": [1, 5], "range": [0.15, 0.8]}, "legend": null}}},
   {"data": {"name": "fit"}, "transform": [{"filter": "datum.p == 14"}], "mark": {"type": "line", "color": "#23a03c", "strokeWidth": 2},
    "encoding": {"x": {"field": "t", "type": "quantitative", "axis": {"orient": "top", "labels": false, "title": null, "values": [0, 50, 100, 150, 200]}},
     "y": {"field": "v", "type": "quantitative", "axis": {"orient": "right", "labels": false, "title": null, "values": [0, 0.5, 1]}}}}
  ]},
 {"width": 340, "height": 115, "title": {"text": ["The proportion of negative", "emotional reports of unclear", "energy in the total changes with", "time"], "offset": -56},
  "layer": [
   {"data": {"name": "pts"}, "transform": [{"filter": "datum.p == 15"}], "mark": {"type": "square", "size": 28, "color": "#6b6b99"},
    "encoding": {"x": {"field": "t", "type": "quantitative", "scale": {"domain": [0, 200]}, "axis": {"orient": "bottom", "values": [0, 50, 100, 150, 200], "title": "Time (unit: month)"}},
     "y": {"field": "v", "type": "quantitative", "scale": {"domain": [0, 1]}, "axis": {"orient": "left", "values": [0, 0.5, 1], "format": "~g", "title": ["Proportion of negative", "emotions in total"]}},
     "opacity": {"field": "n", "type": "quantitative", "scale": {"domain": [1, 5], "range": [0.15, 0.8]}, "legend": null}}},
   {"data": {"name": "fit"}, "transform": [{"filter": "datum.p == 15"}], "mark": {"type": "line", "color": "#23a03c", "strokeWidth": 2},
    "encoding": {"x": {"field": "t", "type": "quantitative", "axis": {"orient": "top", "labels": false, "title": null, "values": [0, 50, 100, 150, 200]}},
     "y": {"field": "v", "type": "quantitative", "axis": {"orient": "right", "labels": false, "title": null, "values": [0, 0.5, 1]}}}}
  ]},
 {"width": 340, "height": 115, "title": {"text": ["The proportion of the difference", "in the total number of positive", "emotional reports of unclear", "power over time"], "offset": -74},
  "layer": [
   {"data": {"name": "pts"}, "transform": [{"filter": "datum.p == 16"}], "mark": {"type": "square", "size": 28, "color": "#6b6b99"},
    "encoding": {"x": {"field": "t", "type": "quantitative", "scale": {"domain": [0, 200]}, "axis": {"orient": "bottom", "values": [0, 50, 100, 150, 200], "title": "Time (unit: month)"}},
     "y": {"field": "v", "type": "quantitative", "scale": {"domain": [0, 1]}, "axis": {"orient": "left", "values": [0, 0.5, 1], "format": "~g", "title": ["Proportion of difference", "between positive and", "negative emotions in total"]}},
     "opacity": {"field": "n", "type": "quantitative", "scale": {"domain": [1, 5], "range": [0.15, 0.8]}, "legend": null}}},
   {"data": {"name": "fit"}, "transform": [{"filter": "datum.p == 16"}], "mark": {"type": "line", "color": "#23a03c", "strokeWidth": 2},
    "encoding": {"x": {"field": "t", "type": "quantitative", "axis": {"orient": "top", "labels": false, "title": null, "values": [0, 50, 100, 150, 200]}},
     "y": {"field": "v", "type": "quantitative", "axis": {"orient": "right", "labels": false, "title": null, "values": [0, 0.5, 1]}}}}
  ]}
], "columns": 2, "bounds": "flush", "spacing": {"row": 198, "column": 143}}
]
}
